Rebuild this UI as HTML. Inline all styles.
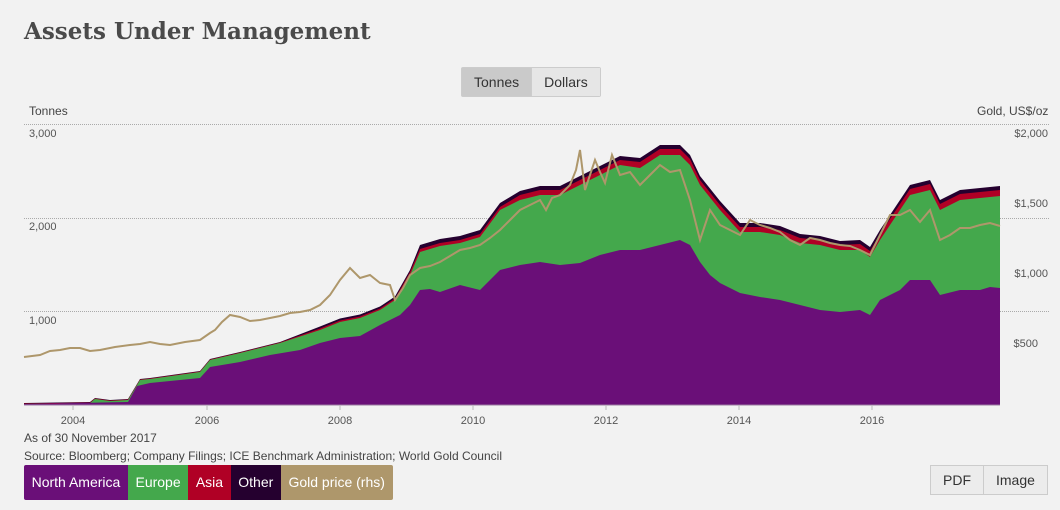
<!DOCTYPE html>
<html><head><meta charset="utf-8"><style>
body{margin:0;background:#f2f2f2;font-family:"Liberation Sans",sans-serif;width:1060px;height:510px;overflow:hidden;position:relative}
.t{position:absolute;left:24px;top:18px;font-family:"DejaVu Serif",serif;font-size:23px;font-weight:bold;color:#4a4a4a}
.tg{position:absolute;left:461px;top:67px;display:flex;border:1px solid #ccc;border-radius:2px;font-size:14px;color:#333}
.tg div{padding:6px 12px}
.s{position:absolute;font-size:12px;color:#444}
.leg{position:absolute;left:24px;top:465px;display:flex;height:35px;font-size:14px;color:#fff;border-radius:2px;overflow:hidden}
.leg div{padding:0 7.6px;line-height:35px}
.btn{position:absolute;left:930px;top:465px;display:flex;border:1px solid #ccc;font-size:14px;color:#333;background:#ececec}
.btn div{padding:6px 12px}
</style></head><body>
<div class="t">Assets Under Management</div>
<div class="tg"><div style="background:#cacaca">Tonnes</div><div style="background:#e6e6e6;border-left:1px solid #ccc">Dollars</div></div>
<div class="s" style="left:29px;top:104px">Tonnes</div>
<div class="s" style="left:977px;top:104px">Gold, US$/oz</div>
<svg style="position:absolute;left:0;top:0" width="1060" height="510">
<g stroke="#aaa" stroke-dasharray="1,1" stroke-width="1">
<line x1="24" y1="124.5" x2="1050" y2="124.5"/><line x1="24" y1="218.5" x2="1050" y2="218.5"/><line x1="24" y1="311.5" x2="1050" y2="311.5"/></g>
<g id="areas"></g>
<g font-size="11" fill="#555" font-family="Liberation Sans">
<text x="29" y="137">3,000</text><text x="29" y="230">2,000</text><text x="29" y="324">1,000</text>
<text x="1048" y="137" text-anchor="end">$2,000</text><text x="1048" y="207" text-anchor="end">$1,500</text>
<text x="1048" y="277" text-anchor="end">$1,000</text><text x="1038" y="347" text-anchor="end">$500</text>
<text x="73" y="424" text-anchor="middle">2004</text><text x="207" y="424" text-anchor="middle">2006</text>
<text x="340" y="424" text-anchor="middle">2008</text><text x="473" y="424" text-anchor="middle">2010</text>
<text x="606" y="424" text-anchor="middle">2012</text><text x="739" y="424" text-anchor="middle">2014</text>
<text x="872" y="424" text-anchor="middle">2016</text></g>
<g stroke="#bbb"><line x1="73" y1="405" x2="73" y2="410"/><line x1="207" y1="405" x2="207" y2="410"/><line x1="340" y1="405" x2="340" y2="410"/><line x1="473" y1="405" x2="473" y2="410"/><line x1="606" y1="405" x2="606" y2="410"/><line x1="739" y1="405" x2="739" y2="410"/><line x1="872" y1="405" x2="872" y2="410"/></g>
</svg>
<div class="s" style="left:24px;top:431px">As of 30 November 2017</div>
<div class="s" style="left:24px;top:449px">Source: Bloomberg; Company Filings; ICE Benchmark Administration; World Gold Council</div>
<div class="leg"><div style="background:#6a0f78">North America</div><div style="background:#44a84c">Europe</div><div style="background:#b00025">Asia</div><div style="background:#25002f">Other</div><div style="background:#ae976b">Gold price (rhs)</div></div>
<div class="btn"><div>PDF</div><div style="border-left:1px solid #ccc">Image</div></div>
<script>
var na=[[24,404],[128,402],[137,386],[150,383],[200,378],[210,367],[240,362],[270,355],[300,350],[320,343],[340,338],[360,336],[380,325],[400,315],[410,305],[420,290],[430,289],[440,292],[460,285],[480,290],[500,270],[520,265],[540,262],[560,265],[580,263],[600,255],[620,250],[640,250],[660,245],[680,240],[690,245],[700,262],[710,275],[720,283],[740,293],[760,297],[780,300],[800,305],[820,310],[840,312],[860,310],[870,315],[880,300],[890,295],[900,290],[910,280],[930,280],[940,295],[960,290],[980,290],[990,287],[1000,288]];
var eu=[[24,404],[90,403],[95,399],[110,401],[128,400],[140,380],[150,379],[200,372],[210,360],[240,353],[280,343],[320,330],[340,322],[360,318],[380,310],[395,300],[410,275],[420,252],[440,246],[460,243],[480,237],[500,210],[520,200],[540,195],[560,195],[580,185],[600,175],[620,165],[640,168],[660,155],[680,155],[690,165],[700,185],[720,210],[740,232],[760,232],[780,235],[800,243],[820,245],[840,250],[860,250],[870,257],[880,240],[890,225],[910,195],[930,190],[940,210],[960,200],[980,198],[1000,196]];
var gold=[[24,357],[32,356],[40,355],[50,351],[60,350],[70,348],[80,348],[90,351],[100,350],[115,347],[130,345],[140,344],[150,342],[160,344],[170,345],[185,342],[200,340],[210,333],[215,330],[222,322],[230,315],[240,317],[250,321],[260,320],[270,318],[280,316],[290,313],[300,312],[310,310],[320,305],[330,295],[340,280],[350,268],[360,278],[370,275],[380,283],[390,285],[395,300],[403,288],[410,275],[420,268],[430,266],[440,262],[450,256],[460,250],[470,248],[480,245],[490,238],[500,230],[510,220],[520,210],[530,205],[540,200],[546,210],[552,198],[560,195],[570,185],[576,170],[580,150],[585,190],[595,160],[600,172],[605,183],[612,155],[620,175],[630,172],[640,185],[650,175],[660,165],[670,172],[680,170],[685,185],[690,200],[700,240],[710,210],[720,225],[730,230],[740,235],[750,220],[760,225],[770,228],[780,232],[790,240],[800,245],[810,238],[820,240],[830,243],[840,245],[850,246],[860,250],[870,255],[880,235],[890,215],[900,215],[910,210],[920,222],[930,210],[940,240],[950,235],[960,228],[970,228],[980,225],[990,223],[1000,226]];
function off(x){return x<300?0.5:x<400?1.5:x<520?3:x<640?5:x<700?6:x<860?5:6}
var as=eu.map(p=>[p[0],p[1]-off(p[0])]);
var ot=as.map(p=>[p[0],p[1]-(p[0]<300?0.5:p[0]<420?2:4)]);
function poly(a,c){return '<polygon fill="'+c+'" points="'+a.map(p=>p.join(',')).join(' ')+' 1000,405 24,405"/>';}
document.getElementById('areas').innerHTML=poly(ot,'#25002f')+poly(as,'#b00025')+poly(eu,'#44a84c')+poly(na,'#6a0f78')+
'<polyline fill="none" stroke="#ae976b" stroke-width="2" points="'+gold.map(p=>p.join(',')).join(' ')+'"/>'+
'<line x1="24" y1="405" x2="1000" y2="405" stroke="#9a7aa0"/>';
</script>
</body></html>
